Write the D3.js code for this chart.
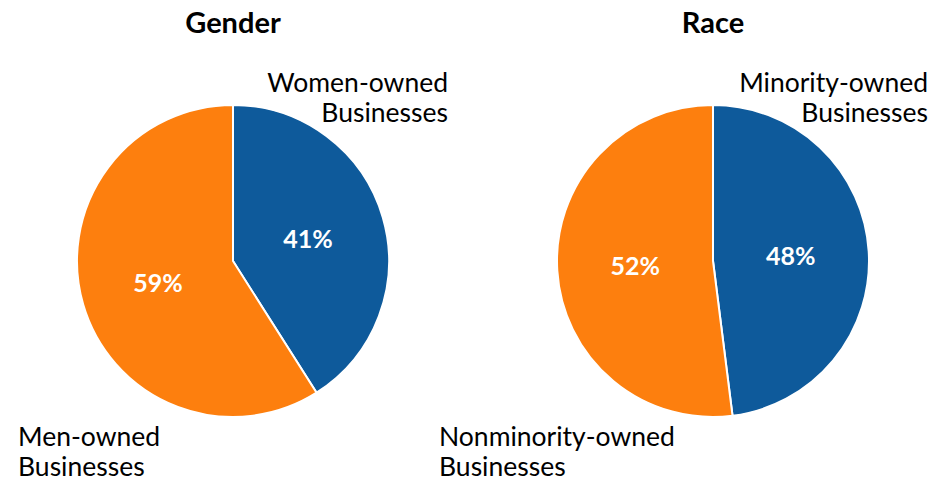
<!DOCTYPE html>
<html><head><meta charset="utf-8">
<script src="https://cdn.jsdelivr.net/npm/d3@7"></script>
<style>body{margin:0;background:#fff;}svg{display:block;font-family:Lato,sans-serif;}</style>
</head><body>
<svg id="c" width="949" height="480"></svg>
<script>
const chartTitles = ["Gender", "Race"];
const sliceNames = [["Women-owned Businesses", "Men-owned Businesses"], ["Minority-owned Businesses", "Nonminority-owned Businesses"]];
const genderValues = [41, 59];
const raceValues = [48, 52];
const colors = ["#0e5a9b", "#fd7f0e"];

const svg = d3.select("#c");
const R = 156;
const centersX = [233, 713];
const cy = 261;
const datasets = [genderValues, raceValues];
const pie = d3.pie().sort(null).value(d => d);
const arc = d3.arc().innerRadius(0).outerRadius(R);

datasets.forEach((vals, i) => {
  const g = svg.append("g").attr("transform", `translate(${centersX[i]},${cy})`);
  const arcs = pie(vals);
  g.selectAll("path").data(arcs).join("path")
    .attr("d", arc).attr("fill", (d, j) => colors[j])
    .attr("stroke", "#fff").attr("stroke-width", 2);
  g.selectAll("text.pct").data(arcs).join("text").attr("class", "pct")
    .attr("transform", d => `translate(${arc.centroid(d)})`)
    .attr("text-anchor", "middle").attr("dy", "0.36em")
    .attr("fill", "#fff").attr("font-weight", 700).attr("font-size", 25)
    .text(d => d.data + "%");
  svg.append("text").attr("x", centersX[i]).attr("y", 33)
    .attr("text-anchor", "middle").attr("font-weight", 700).attr("font-size", 29)
    .attr("fill", "#000").text(chartTitles[i]);
  const [first, second] = sliceNames[i];
  const splitLabel = s => { const k = s.lastIndexOf(" "); return [s.slice(0, k), s.slice(k + 1)]; };
  const t1 = svg.append("text").attr("text-anchor", "end").attr("font-size", 26.5).attr("fill", "#000");
  splitLabel(first).forEach((ln, k) => t1.append("tspan").attr("x", centersX[i] + 215).attr("y", 92 + k * 30).text(ln));
  const t2 = svg.append("text").attr("text-anchor", "start").attr("font-size", 26.5).attr("fill", "#000");
  splitLabel(second).forEach((ln, k) => t2.append("tspan").attr("x", i === 0 ? 18 : 439).attr("y", 446 + k * 30).text(ln));
});
</script>
</body></html>
